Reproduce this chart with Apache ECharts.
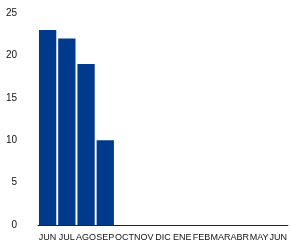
<!DOCTYPE html>
<html>
<head>
<meta charset="utf-8">
<script src="https://cdn.jsdelivr.net/npm/echarts@6/dist/echarts.min.js"></script>
<style>
  html, body { margin: 0; padding: 0; background: #fff; }
  #chart { width: 290px; height: 245px; }
</style>
</head>
<body>
<div id="chart"></div>
<script>
const months = ["JUN", "JUL", "AGO", "SEP", "OCT", "NOV", "DIC", "ENE", "FEB", "MAR", "ABR", "MAY", "JUN"]
const values = [23, 22, 19, 10, null, null, null, null, null, null, null, null, null]
const yTicks = [0, 5, 10, 15, 20, 25]

const myChart = echarts.init(document.getElementById("chart"))

myChart.setOption({
  animation: false,
  textStyle: { fontFamily: "Liberation Sans Narrow, Liberation Sans, sans-serif" },
  grid: { left: 38, right: 1, top: 13, bottom: 20 },
  xAxis: {
    type: "category",
    data: months,
    axisLine: { lineStyle: { color: "#222", width: 1 } },
    axisTick: { show: false },
    axisLabel: { interval: 0, fontSize: 9, color: "#111", margin: 8 }
  },
  yAxis: {
    type: "value",
    min: yTicks[0],
    max: yTicks[yTicks.length - 1],
    interval: 5,
    axisLine: { show: false },
    axisTick: { show: false },
    splitLine: { show: false },
    axisLabel: { fontSize: 10, color: "#111", margin: 21 }
  },
  series: [
    {
      type: "bar",
      data: values,
      barCategoryGap: "10%",
      itemStyle: { color: "#003a8c" }
    }
  ]
})
</script>
</body>
</html>
